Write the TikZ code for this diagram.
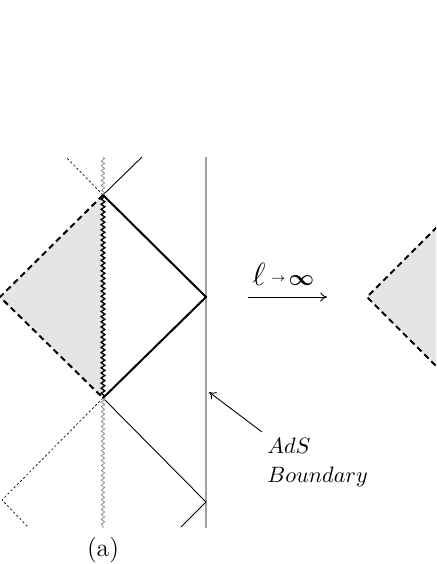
\documentclass[tikz,border=0pt]{standalone}
\usepackage{bm}
\usetikzlibrary{decorations.pathmorphing,arrows.meta}
\begin{document}
\begin{tikzpicture}[x=0.45pt,y=-0.45pt,
  shade/.style={fill=gray!20,draw=none},
  horizon/.style={line width=0.9pt,dash pattern=on 2.7pt off 1.8pt},
  dotline/.style={line width=0.3pt,dash pattern=on 1pt off 1pt},
  thickline/.style={line width=0.9pt},
  thinline/.style={line width=0.4pt},
  boundary/.style={line width=0.7pt,draw=gray!75},
  singthick/.style={line width=0.6pt,decorate,decoration={snake,amplitude=0.85pt,segment length=2.3pt}},
  singthin/.style={line width=0.3pt,draw=gray,decorate,decoration={snake,amplitude=0.75pt,segment length=2.2pt}},
  lbl/.style={inner sep=0pt}]
\useasboundingbox (0,0) rectangle (436,564);
\clip (0,0) rectangle (436,564);
% coordinates
\coordinate (T) at (103,195);
\coordinate (R) at (206,297);
\coordinate (B) at (103,398);
\coordinate (L) at (0,297);
\coordinate (sTop) at (103,157);
\coordinate (sBot) at (103,528);
\coordinate (bTop) at (206,157);
\coordinate (bBot) at (206,528);
\coordinate (TR) at (142,157);
\coordinate (TL) at (66,157);
\coordinate (BR) at (206,502);
\coordinate (BRe) at (181,527);
\coordinate (BL) at (2,500);
\coordinate (BLe) at (28,527);
\coordinate (A1) at (248,297);
\coordinate (A2) at (327,297);
\coordinate (P1) at (262,432);
\coordinate (P2) at (209,392);
\coordinate (RL) at (367,297);
\coordinate (RU) at (437,227);
\coordinate (RD) at (437,367);
% shading
\fill[shade] (L) -- (T) -- (B) -- cycle;
\fill[shade] (RL) -- (RU) -- (RD) -- cycle;
% boundary
\draw[boundary] (bTop) -- (bBot);
% horizons
\draw[horizon] (T) -- (L) -- (B);
\draw[horizon] (RU) -- (RL) -- (RD);
% thin continuations
\draw[thinline] (T) -- (TR);
\draw[dotline] (T) -- (TL);
\draw[thinline] (B) -- (BR) -- (BRe);
\draw[dotline] (B) -- (BL) -- (BLe);
% diamond
\draw[thickline] (T) -- (R) -- (B);
% singularity
\draw[singthin] (sTop) -- (T);
\draw[singthin] (B) -- (sBot);
\draw[singthick] (T) -- (B);
% arrow
\draw[thinline,-{To[length=3pt,width=4pt]}] (A1) -- (A2);
\node[lbl,anchor=base west] (lim) at (252,285) {{\Large$\ell$}\kern2.4pt\raisebox{1.6pt}{\tiny$\to$}\kern1.2pt{\normalsize$\bm{\infty}$}};
% pointer
\draw[thinline,-{To[length=3pt,width=4pt]}] (P1) -- (P2);
\node[lbl,anchor=base west] (ads) at (267,453) {$AdS$};
\node[lbl,anchor=base west] (bdy) at (267,482) {$Boundary$};
\node[lbl] (cap) at (103,550) {\fontsize{11.5}{13}\selectfont (a)};
\end{tikzpicture}
\end{document}
